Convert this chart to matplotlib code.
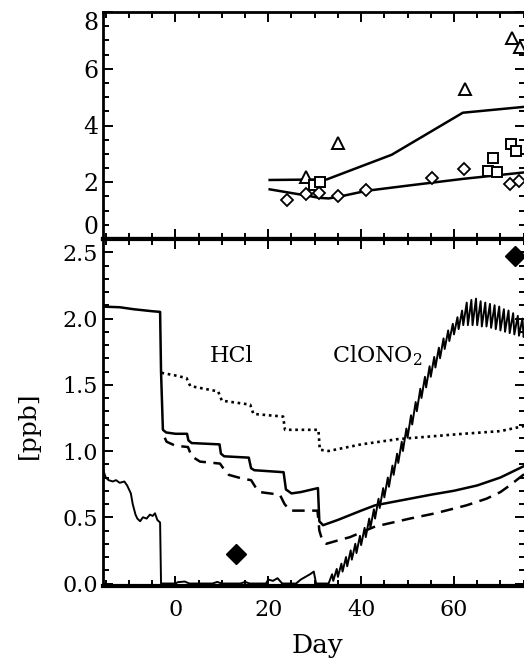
import numpy as np
from matplotlib import pyplot as plt
from matplotlib.ticker import MultipleLocator

plt.rcParams['font.family'] = 'DejaVu Serif'
plt.rcParams['mathtext.fontset'] = 'dejavuserif'
plt.rcParams['mathtext.default'] = 'rm'

# ---- top panel: model lines + observations
upper_day = [20.3, 32.6, 46.6, 61.9, 75.3]
upper_val = [2.08, 2.1, 2.97, 4.45, 4.66]
lower_day = [20.3, 25.0, 28.3, 31.0, 33.0, 35.5, 41.2, 50.0, 62.0, 75.3]
lower_val = [1.75, 1.62, 1.53, 1.45, 1.43, 1.5, 1.7, 1.88, 2.12, 2.35]

tri_day = [28.1, 35.1, 62.4, 72.5, 74.2]
tri_val = [2.18, 3.38, 5.27, 7.07, 6.78]
sq_day = [29.9, 31.1, 67.3, 69.2, 68.3, 72.3, 73.4]
sq_val = [1.92, 2.0, 2.39, 2.36, 2.86, 3.36, 3.1]
dia_day = [24.1, 28.1, 31.0, 35.1, 41.1, 55.3, 62.2, 72.1, 73.9]
dia_val = [1.36, 1.57, 1.63, 1.53, 1.73, 2.16, 2.48, 1.95, 2.06]

# ---- bottom panel: HCl (solid, dashed, dotted) and ClONO2
hcl_day = [-15.9, -12.0, -9.0, -5.0, -3.3, -3.1, -2.7, -2.0, 0.0, 2.5, 2.8, 3.5, 9.5, 9.8, 10.5, 15.8,
           16.3, 17.0, 23.3, 23.8, 25.0, 27.0, 30.7, 31.0, 31.8, 35.0, 40.0, 43.0, 49.0, 55.0, 60.0,
           65.0, 70.0, 75.3]
hcl_val = [2.09, 2.085, 2.07, 2.055, 2.05, 1.6, 1.16, 1.14, 1.13, 1.13, 1.08, 1.06, 1.05, 0.98, 0.96, 0.95,
           0.87, 0.855, 0.84, 0.71, 0.68, 0.69, 0.72, 0.47, 0.44, 0.48, 0.55, 0.59, 0.63, 0.67, 0.70,
           0.74, 0.80, 0.89]

hcl2_day = [-2.3, -1.9, 0.0, 2.7, 3.5, 5.3, 9.6, 10.5, 11.5, 14.6, 16.3, 17.2, 18.2, 22.5, 23.5, 24.7,
            30.6, 31.0, 31.6, 32.5, 35.5, 37.6, 43.0, 50.5, 56.0, 62.7, 67.0, 70.0, 72.0, 75.3]
hcl2_val = [1.1, 1.07, 1.04, 1.03, 0.96, 0.92, 0.905, 0.86, 0.82, 0.79, 0.78, 0.73, 0.69, 0.67, 0.6, 0.55,
            0.55, 0.40, 0.33, 0.30, 0.33, 0.35, 0.43, 0.49, 0.53, 0.59, 0.64, 0.69, 0.74, 0.83]

hcl3_day = [-3.0, 0.0, 2.4, 3.2, 9.2, 10.0, 16.1, 16.8, 23.2, 23.6, 30.8, 31.1, 33.0, 40.0, 48.0,
            55.0, 62.0, 70.0, 75.3]
hcl3_val = [1.59, 1.57, 1.55, 1.49, 1.45, 1.38, 1.35, 1.28, 1.26, 1.16, 1.16, 1.01, 1.0, 1.05, 1.09,
            1.11, 1.13, 1.15, 1.19]

clono2_early_day = [-15.8, -15.0, -14.4, -13.5, -12.8, -12.0, -11.0, -10.4, -9.6, -9.2, -8.6, -8.2,
                    -7.6, -7.0, -6.2, -5.5, -4.9, -4.4, -3.9, -3.3, -3.1, 0.0, 0.5, 2.0, 3.0, 8.0,
                    9.0, 10.0, 14.0, 15.0, 16.0, 19.5, 20.0, 21.0, 22.0, 23.0, 26.0, 27.0, 28.0,
                    29.0, 29.8, 30.3, 32.0]
clono2_early_val = [0.88, 0.80, 0.78, 0.77, 0.78, 0.76, 0.77, 0.74, 0.68, 0.60, 0.52, 0.49,
                    0.47, 0.50, 0.49, 0.52, 0.51, 0.53, 0.48, 0.46, 0.0, 0.0, 0.01, 0.015, 0.0, 0.0,
                    0.012, 0.0, 0.0, 0.012, 0.0, 0.0, 0.03, 0.02, 0.04, 0.0, 0.0, 0.03, 0.05,
                    0.07, 0.09, 0.0, 0.0]
clono2_day = [33, 34, 35, 36, 37, 38, 39, 40, 41, 42, 43, 44, 45, 46, 47, 48, 49, 50, 51, 52, 53,
              54, 55, 56, 57, 58, 59, 60, 61, 62, 63, 64, 65, 66, 67, 68, 69, 70, 71, 72, 73, 74, 75]
clono2_lo = [0.0, 0.02, 0.05, 0.09, 0.13, 0.18, 0.23, 0.29, 0.35, 0.42, 0.49, 0.57, 0.65, 0.73,
             0.82, 0.91, 1.00, 1.10, 1.20, 1.30, 1.40, 1.48, 1.56, 1.63, 1.70, 1.77, 1.83, 1.88,
             1.92, 1.95, 1.95, 1.95, 1.95, 1.94, 1.94, 1.93, 1.92, 1.91, 1.90, 1.89, 1.88, 1.87, 1.86]
clono2_hi = [0.07, 0.11, 0.15, 0.20, 0.25, 0.30, 0.36, 0.42, 0.49, 0.56, 0.64, 0.72, 0.80, 0.89,
             0.98, 1.07, 1.17, 1.27, 1.37, 1.47, 1.56, 1.64, 1.71, 1.78, 1.85, 1.91, 1.96, 2.01,
             2.06, 2.12, 2.14, 2.15, 2.13, 2.12, 2.11, 2.10, 2.09, 2.07, 2.06, 2.04, 2.02, 2.00, 1.98]

obs_day = [13.0, 73.2]
obs_val = [0.22, 2.47]

xticks = [0, 20, 40, 60]

# daily cycle of ClONO2: low at start of day, high later in the day
cl_x = list(clono2_early_day)
cl_y = list(clono2_early_val)
for d, lo, hi in zip(clono2_day, clono2_lo, clono2_hi):
    cl_x += [d, d + 0.75]
    cl_y += [lo, hi]

W, H = 524, 663
fig = plt.figure(figsize=(W / 100, H / 100), dpi=100)
x0, x1 = 103, 525
ax1 = fig.add_axes([x0 / W, 1 - 239 / H, (x1 - x0) / W, 227 / H])
ax2 = fig.add_axes([x0 / W, 1 - 585.5 / H, (x1 - x0) / W, 346.5 / H], sharex=ax1)

ax1.plot(upper_day, upper_val, color='black', lw=1.8)
ax1.plot(lower_day, lower_val, color='black', lw=1.8)
ax1.plot(tri_day, tri_val, ls='none', marker='^', ms=8, mfc='white', mec='black', mew=1.4)
ax1.plot(sq_day, sq_val, ls='none', marker='s', ms=7.5, mfc='white', mec='black', mew=1.4)
ax1.plot(dia_day, dia_val, ls='none', marker='D', ms=6.5, mfc='white', mec='black', mew=1.3)
ax1.set_ylim(0, 8)
ax1.set_yticks([0, 2, 4, 6, 8])
ax1.yaxis.set_minor_locator(MultipleLocator(0.5))
ax1.tick_params(axis='y', labelsize=17)
ax1.tick_params(axis='x', labelbottom=False)

ax2.plot(hcl_day, hcl_val, color='black', lw=1.8)
ax2.plot(hcl2_day, hcl2_val, color='black', lw=1.8, ls=(0, (5, 3)))
ax2.plot(hcl3_day, hcl3_val, color='black', lw=1.9, ls=(0, (1, 1.4)))
ax2.plot(cl_x, cl_y, color='black', lw=1.4)
ax2.plot(obs_day, obs_val, ls='none', marker='D', ms=10, color='black', clip_on=False)
ax2.set_xlim(-15.6, 75.3)
ax2.set_ylim(-0.015, 2.6)
ax2.set_yticks([0.0, 0.5, 1.0, 1.5, 2.0, 2.5])
ax2.set_yticklabels(['0.0', '0.5', '1.0', '1.5', '2.0', '2.5'])
ax2.yaxis.set_minor_locator(MultipleLocator(0.1))
ax2.set_xticks(xticks)
ax2.xaxis.set_minor_locator(MultipleLocator(5))
ax2.tick_params(axis='both', labelsize=16)
ax2.tick_params(axis='x', pad=10)

for ax in (ax1, ax2):
    ax.tick_params(which='both', direction='in', top=True, right=True, width=1.4)
    ax.tick_params(which='major', length=7)
    ax.tick_params(which='minor', length=4)
    for s in ax.spines.values():
        s.set_linewidth(2)
ax2.spines['bottom'].set_linewidth(3)
ax2.spines['top'].set_linewidth(3)
ax1.spines['bottom'].set_linewidth(3)

labs = ax1.get_yticklabels()
labs[0].set_va('bottom')
labs[-1].set_va('top')

ax2.text(12.0, 1.72, 'HCl', fontsize=16, ha='center', va='center')
ax2.text(43.5, 1.72, 'ClONO$_2$', fontsize=16, ha='center', va='center')

fig.text(317 / W, 1 - 645 / H, 'Day', fontsize=19, ha='center', va='center')
fig.text(28 / W, 1 - 425 / H, '[ppb]', fontsize=18, rotation=90, ha='center', va='center')

fig.savefig('out.png', dpi=100)
